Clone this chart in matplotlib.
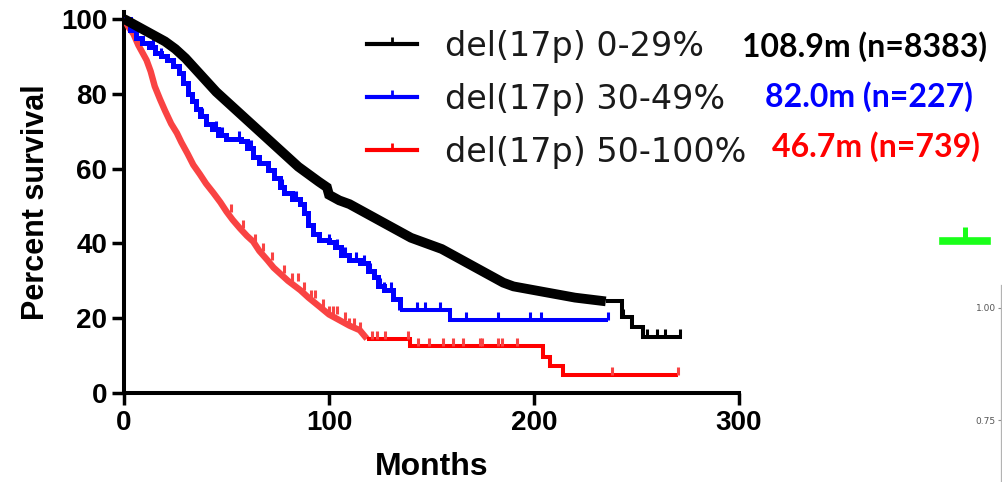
import matplotlib
matplotlib.use("Agg")
import matplotlib.pyplot as plt
from matplotlib.lines import Line2D
import numpy as np

# Kaplan-Meier curves: (months, percent survival) at each step
black_t = [0, 5, 10, 15, 20, 25, 30, 35, 40, 45, 50, 55, 60, 65, 70, 75, 80, 85,
           90, 95, 99, 100, 105, 110, 115, 120, 125, 130, 135, 140, 145, 150, 155,
           160, 165, 170, 175, 180, 185, 190, 195, 200, 205, 210, 215, 220, 235,
           243, 248, 253, 272]
black_s = [100, 98.5, 97, 95.5, 94, 92, 89.5, 86.5, 83.5, 80.5, 78, 75.5, 73, 70.5,
           68, 65.5, 63, 60.5, 58.5, 56.5, 55, 53, 51.5, 50.5, 49, 47.5, 46, 44.5,
           43, 41.5, 40.5, 39.5, 38.5, 37, 35.5, 34, 32.5, 31, 29.5, 28.5, 28, 27.5,
           27, 26.5, 26, 25.5, 24.5, 20.3, 17.7, 15, 15]
black_cens = [243.5, 255, 260, 264, 271]

blue_t = [0, 3, 6, 9, 12, 15, 18, 21, 24, 27, 29, 31, 33, 35, 37, 40, 43, 46, 50,
          54, 57, 60, 63, 66, 70, 73, 76, 78, 82, 86, 88, 90, 92, 95, 100, 103,
          106, 110, 115, 119, 122, 124, 127, 131, 134.6, 159, 236]
blue_s = [100, 97, 95, 93.5, 92.5, 91, 90, 89, 87.5, 85.5, 83, 80, 78, 76, 74, 72,
          70.5, 69, 68, 68, 67.5, 65.5, 63, 61.5, 59.5, 57.5, 55, 53.5, 52, 50.5,
          48, 45, 42.5, 41, 40.5, 39, 37, 35.5, 34.7, 32.5, 31, 28.5, 27.5, 25,
          22.2, 19.5, 19.5]
blue_cens = [14, 18, 27, 33, 38, 45, 48, 56, 62, 70, 77, 84, 90, 95, 100, 104,
             108, 113, 117, 120, 122, 125, 127, 130, 143, 147, 154, 167, 182.4,
             198, 203.4, 236]

red_t = [0, 2, 4.6, 7, 9, 11, 13, 15, 17.6, 20, 23, 25.8, 28, 31, 33.8, 37, 40,
         43.6, 47, 50, 53, 56.6, 60, 63, 66, 70, 73, 76, 80, 86, 90, 95.6, 100,
         105, 110, 115, 118.5, 139.5, 204.4, 208, 214, 270]
red_s = [100, 98, 96, 93, 91, 89, 86, 82, 78.5, 75.5, 72, 69.5, 67, 64, 61, 58.5,
         56, 53.5, 51, 48.5, 46.3, 44, 42, 40.5, 38, 35.5, 33.5, 32, 30, 27.5, 25.5,
         23, 21, 19.5, 18, 16.8, 14.5, 12.5, 9.6, 7.2, 4.8, 4.8]
red_cens = [52, 58, 64, 68, 72, 78, 82, 85, 88, 91, 93, 97, 100, 102, 104, 108,
            110, 112, 115, 121, 123.4, 127.3, 138.5, 143.4, 149, 155.6, 160.5,
            165.4, 173.7, 174.6, 182.4, 184.4, 191.7, 238, 270]

labels = ["del(17p) 0-29%", "del(17p) 30-49%", "del(17p) 50-100%"]
medians = ["108.9m (n=8383)", "82.0m (n=227)", "46.7m (n=739)"]
colors = ["#000000", "#0000ff", "#ff0000"]
dense_colors = ["#000000", "#0000ff", "#f94343"]
dense_until = [235, 134.6, 118.5]
dense_lw = [7, 3.6, 4.6]
dense_style = ["default", "steps-post", "default"]

x_ticks = [0, 100, 200, 300]
y_ticks = [0, 20, 40, 60, 80, 100]

# upward censor tick, like GraphPad draws it
TICK = [(0, 0), (0, 1)]

W, H = 1003, 482
fig = plt.figure(figsize=(W / 100, H / 100), dpi=100)
ax = fig.add_axes([124 / W, 1 - 393 / H, 615 / W, (393 - 11.5) / H])

curves = [(black_t, black_s, black_cens), (blue_t, blue_s, blue_cens),
          (red_t, red_s, red_cens)]
for i, (t, s, cens) in enumerate(curves):
    t = np.array(t)
    s = np.array(s)
    z = 3 - i * 0.1
    # early part: so many events and censored cases that the steps blur together
    m = t <= dense_until[i]
    ax.plot(t[m], s[m], drawstyle=dense_style[i], color=dense_colors[i],
            lw=dense_lw[i], solid_joinstyle="miter", solid_capstyle="butt", zorder=z)
    # sparse tail as a proper step function
    tail = t >= dense_until[i]
    ax.plot(t[tail], s[tail], drawstyle="steps-post", color=colors[i], lw=2.9,
            solid_joinstyle="miter", solid_capstyle="butt", zorder=z)
    idx = np.searchsorted(t, cens, side="right") - 1
    ax.plot(cens, s[idx], ls="none", marker=TICK, ms=11.5, mew=2.2,
            color=dense_colors[i], zorder=z)

ax.set_xlim(0, 300)
ax.set_ylim(0, 102)
ax.set_xticks(x_ticks)
ax.set_yticks(y_ticks)
for side in ["top", "right"]:
    ax.spines[side].set_visible(False)
for side in ["left", "bottom"]:
    ax.spines[side].set_linewidth(2.9)
ax.tick_params(width=2.5, length=8.6, pad=3.5, direction="out")
for lab in ax.get_xticklabels() + ax.get_yticklabels():
    lab.set_fontfamily("Liberation Sans")
    lab.set_fontweight("bold")
    lab.set_fontsize(20)
ax.set_xlabel("Months", fontfamily="Liberation Sans", fontweight="bold",
              fontsize=23, labelpad=12)
ax.set_ylabel("Percent survival", fontfamily="Liberation Sans", fontweight="bold",
              fontsize=22, labelpad=7)

handles = [Line2D([], [], color=c, lw=3, marker=TICK, ms=10, mew=2) for c in colors]
leg = fig.legend(handles, labels, loc="upper left", bbox_to_anchor=(367 / W, 1 - 30 / H),
                 frameon=False, prop={"family": "DejaVu Sans", "size": 24},
                 handlelength=1.5, handletextpad=0.85, labelspacing=0.6,
                 borderpad=0, borderaxespad=0)
for txt in leg.get_texts():
    txt.set_color("#1a1a1a")

med_x = [742, 765, 772]
med_y = [47, 97, 147]
for i in range(3):
    fig.text(med_x[i] / W, 1 - med_y[i] / H, medians[i], color=colors[i],
             fontfamily="Lato", fontweight="bold", fontsize=23, va="center")

# stray green handle and the edge of a neighbouring axis
fig.add_artist(Line2D([943 / W, 987 / W], [1 - 241 / H] * 2, color="#19ff19", lw=5.5))
fig.add_artist(Line2D([965 / W], [1 - 241 / H], color="#19ff19", marker=TICK,
                      ms=20, mew=3.6, ls="none"))
ax2 = fig.add_axes([1001.5 / W, 0, 0.01, (482 - 285) / H])
ax2.set_ylim(0.612, 1.051)
ax2.set_yticks([0.75, 1.00])
ax2.set_yticklabels(["0.75", "1.00"])
ax2.set_xticks([])
for side in ["top", "right", "bottom"]:
    ax2.spines[side].set_visible(False)
ax2.spines["left"].set_color("#b3b3b3")
ax2.spines["left"].set_linewidth(0.9)
ax2.patch.set_visible(False)
ax2.tick_params(axis="y", length=2.5, width=0.8, color="#888888", pad=1.5,
                labelsize=6.5, labelcolor="#555555")

fig.savefig("out.png", dpi=100)
